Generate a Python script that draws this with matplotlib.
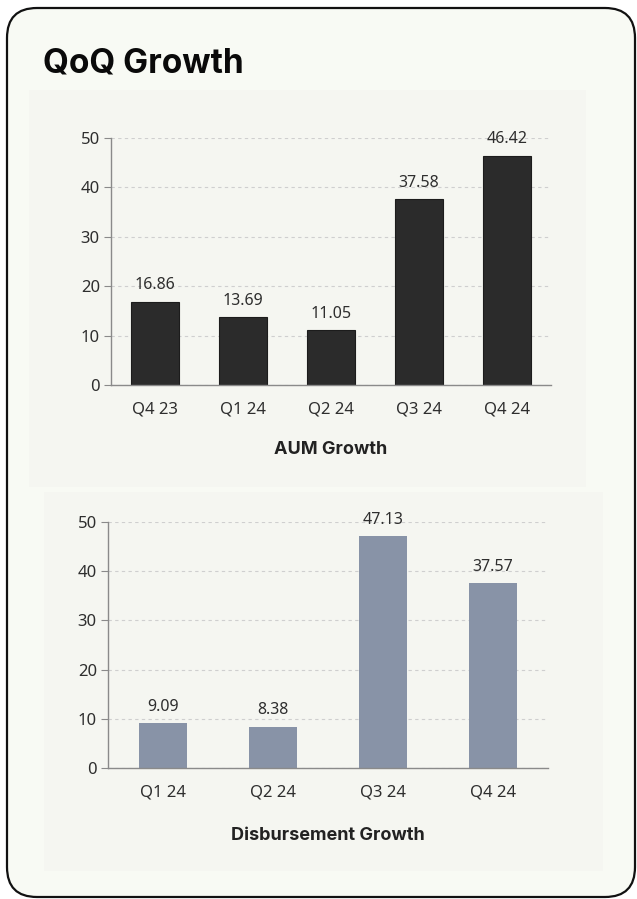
import matplotlib
matplotlib.use("Agg")
import matplotlib.pyplot as plt
from matplotlib.patches import FancyBboxPatch, Rectangle

# ---- data ----
aum_categories = ["Q4 23", "Q1 24", "Q2 24", "Q3 24", "Q4 24"]
aum_values = [16.86, 13.69, 11.05, 37.58, 46.42]
disb_categories = ["Q1 24", "Q2 24", "Q3 24", "Q4 24"]
disb_values = [9.09, 8.38, 47.13, 37.57]
y_ticks = [0, 10, 20, 30, 40, 50]

W, H = 637, 899
fig = plt.figure(figsize=(W / 100, H / 100), dpi=100)
fig.patch.set_facecolor("white")

# background axes in pixel coordinates
bg = fig.add_axes([0, 0, 1, 1], zorder=-10)
bg.set_xlim(0, W)
bg.set_ylim(H, 0)
bg.axis("off")

card = FancyBboxPatch((7, 8), 628, 889, boxstyle="round,pad=0,rounding_size=30",
                      facecolor="#f8faf4", edgecolor="#111111", linewidth=1.6)
bg.add_patch(card)
bg.add_patch(Rectangle((29, 90), 557, 397, facecolor="#f5f6f1", edgecolor="none"))
bg.add_patch(Rectangle((44, 492), 559, 379, facecolor="#f5f6f1", edgecolor="none"))

bg.text(43, 64, "QoQ Growth", fontsize=24, fontweight="bold", family="Inter",
        va="center", ha="left", color="#0a0a0a")

tick_font = "Noto Sans"


def style_axes(ax):
    ax.set_facecolor("none")
    ax.set_ylim(0, 50)
    ax.set_yticks(y_ticks)
    ax.grid(axis="y", linestyle=(0, (3, 3)), color="#cfcfcf", linewidth=0.8)
    ax.set_axisbelow(True)
    for s in ["top", "right"]:
        ax.spines[s].set_visible(False)
    for s in ["left", "bottom"]:
        ax.spines[s].set_color("#8a8a8a")
        ax.spines[s].set_linewidth(1.0)
    ax.tick_params(axis="y", length=5, color="#8a8a8a", labelsize=12, labelcolor="#2e2e2e", pad=3)
    ax.tick_params(axis="x", length=0, labelsize=12, labelcolor="#2e2e2e", pad=12)
    for lab in ax.get_xticklabels() + ax.get_yticklabels():
        lab.set_family(tick_font)


# ---- top chart ----
ax1 = fig.add_axes([111 / W, (H - 385) / H, 440 / W, 247 / H])
x1 = list(range(len(aum_categories)))
ax1.bar(x1, aum_values, width=0.545, color="#2b2b2b", edgecolor="#1c1c1c", linewidth=0.8)
ax1.set_xlim(-0.5, len(aum_categories) - 0.5)
ax1.set_xticks(x1)
ax1.set_xticklabels(aum_categories)
style_axes(ax1)
for xi, v in zip(x1, aum_values):
    ax1.annotate(f"{v:.2f}", (xi, v), xytext=(0, 6), textcoords="offset points",
                 ha="center", va="bottom", fontsize=11.5, family=tick_font, color="#2e2e2e",
                 annotation_clip=False)
ax1.set_xlabel("AUM Growth", fontsize=13, fontweight="bold", family="Inter",
               color="#222222", labelpad=17)

# ---- bottom chart ----
ax2 = fig.add_axes([108 / W, (H - 768) / H, 440 / W, 246 / H])
x2 = list(range(len(disb_categories)))
ax2.bar(x2, disb_values, width=0.445, color="#8893a7", edgecolor="none")
ax2.set_xlim(-0.5, len(disb_categories) - 0.5)
ax2.set_xticks(x2)
ax2.set_xticklabels(disb_categories)
style_axes(ax2)
for xi, v in zip(x2, disb_values):
    ax2.annotate(f"{v:.2f}", (xi, v), xytext=(0, 6), textcoords="offset points",
                 ha="center", va="bottom", fontsize=11.5, family=tick_font, color="#2e2e2e",
                 annotation_clip=False)
ax2.set_xlabel("Disbursement Growth", fontsize=13, fontweight="bold", family="Inter",
               color="#222222", labelpad=19)

fig.savefig("out.png", dpi=100, facecolor=fig.get_facecolor())
